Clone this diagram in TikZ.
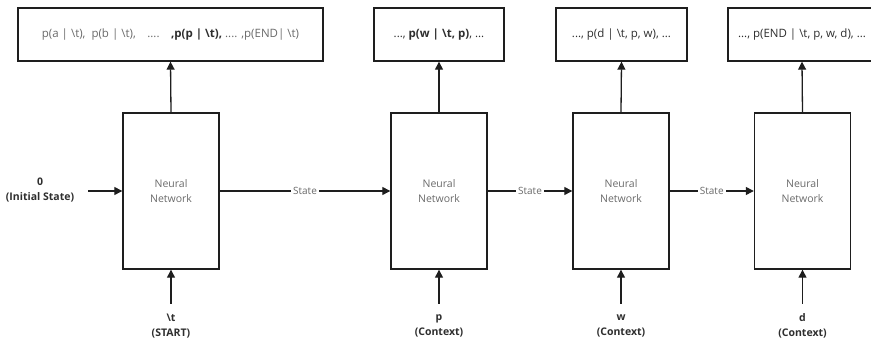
\documentclass[tikz,border=0pt]{standalone}
\usepackage{fontspec}
\setmainfont{Open Sans}
\usetikzlibrary{arrows.meta}
\definecolor{txtgray}{HTML}{6A6A6A}
\definecolor{txtdark}{HTML}{2E2E2E}
\definecolor{linec}{HTML}{1E1E1E}
\tikzset{
  nnbox/.style={draw=linec, line width=1.4pt, minimum width=96pt, minimum height=156pt, inner sep=0pt,
    font=\fontsize{10.5}{15.5}\selectfont, text=txtgray, align=center},
  outbox/.style={draw=linec, line width=1.4pt, minimum height=53pt, inner sep=0pt,
    font=\fontsize{11.5}{13}\selectfont, text=txtdark, align=center},
  conn/.style={draw=linec, line width=1.3pt, -{Triangle[length=8pt,width=8pt]}},
  inlabel/.style={font=\fontsize{10.5}{15.5}\selectfont\bfseries, text=txtdark, align=center, inner sep=0pt},
  statelbl/.style={fill=white, font=\fontsize{10}{12}\selectfont, text=txtgray, inner sep=2pt}
}
\newcommand{\bs}{\textbackslash}
\begin{document}
\begin{tikzpicture}[x=1pt,y=-1pt]
\useasboundingbox (0,0) rectangle (871,344);
% neural network boxes
\node[nnbox] (nn1) at (171,191) {Neural\\Network};
\node[nnbox] (nn2) at (439,191) {Neural\\Network};
\node[nnbox] (nn3) at (621,191) {Neural\\Network};
\node[nnbox] (nn4) at (802.5,191) {Neural\\Network};
% output boxes
\node[outbox, minimum width=305pt] (o1) at (170.5,34.5) {\color{txtgray}p(a | \bs t),\ \ p(b | \bs t),\quad ....\quad \textcolor{txtdark}{\bfseries ,p(p | \bs t),} .... ,p(END| \bs t)};
\node[outbox, minimum width=130pt] (o2) at (439,34.5) {..., \textbf{p(w | \bs t, p)}, ...};
\node[outbox, minimum width=131pt] (o3) at (621.5,34.5) {..., p(d | \bs t, p, w), ...};
\node[outbox, minimum width=148pt] (o4) at (802,34.5) {..., p(END | \bs t, p, w, d), ...};
% inputs
\node[inlabel] (init) at (40,190) {0\\(Initial State)};
\coordinate (initend) at (88,191);
\node[inlabel] (in1) at (171,326) {\bs t\\(START)};
\node[inlabel] (in2) at (439,326) {p\\(Context)};
\node[inlabel] (in3) at (621,326) {w\\(Context)};
\node[inlabel] (in4) at (802.5,326) {d\\(Context)};
\foreach \i in {1,2,3,4} {
  \coordinate (b\i) at ([yshift=-34pt]nn\i.south);
  \draw[conn] (b\i) -- (nn\i.south);
  \draw[conn] (nn\i.north) -- (o\i.south);
}
\draw[conn] (initend) -- (nn1.west);
\draw[conn] (nn1.east) -- node[statelbl]{State} (nn2.west);
\draw[conn] (nn2.east) -- node[statelbl]{State} (nn3.west);
\draw[conn] (nn3.east) -- node[statelbl]{State} (nn4.west);
\end{tikzpicture}
\end{document}
